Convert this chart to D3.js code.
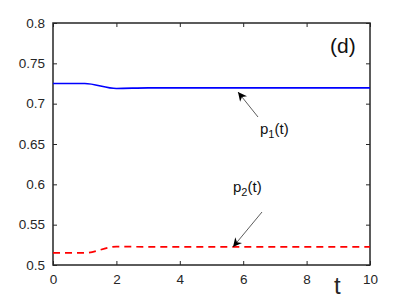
<!DOCTYPE html>
<html>
<head>
<meta charset="utf-8">
<script src="https://cdn.jsdelivr.net/npm/d3@7"></script>
<style>
  body { margin: 0; background: #fff; }
  svg { font-family: "Liberation Sans", Arial, sans-serif; }
</style>
</head>
<body>
<script>
// data
var t = [0, 1, 2, 3, 4, 5, 6, 7, 8, 9, 10];
var p1 = [0.725, 0.725, 0.7188, 0.7195, 0.7195, 0.7195, 0.7195, 0.7195, 0.7195, 0.7195, 0.7195];
var p2 = [0.515, 0.515, 0.5228, 0.5225, 0.5225, 0.5225, 0.5225, 0.5225, 0.5225, 0.5225, 0.5225];
var xTicks = [0, 2, 4, 6, 8, 10];
var yTicks = [0.5, 0.55, 0.6, 0.65, 0.7, 0.75, 0.8];

var W = 409, H = 298;
var mLeft = 53, mRight = 370, mTop = 23, mBottom = 265;

var svg = d3.select("body").append("svg")
  .attr("width", W)
  .attr("height", H);

var x = d3.scaleLinear().domain([0, 10]).range([mLeft, mRight]);
var y = d3.scaleLinear().domain([0.5, 0.8]).range([mBottom, mTop]);

var axisColor = "#262626";

// axes with inward ticks
var gx = svg.append("g").attr("transform", "translate(0," + mBottom + ")")
  .call(d3.axisBottom(x).tickValues(xTicks).tickSizeInner(-4).tickSizeOuter(0).tickPadding(9).tickFormat(d3.format("d")));
var gxTop = svg.append("g").attr("transform", "translate(0," + mTop + ")")
  .call(d3.axisTop(x).tickValues(xTicks).tickSizeInner(-4).tickSizeOuter(0).tickFormat(""));
var gy = svg.append("g").attr("transform", "translate(" + mLeft + ",0)")
  .call(d3.axisLeft(y).tickValues(yTicks).tickSizeInner(-4).tickSizeOuter(0).tickPadding(8).tickFormat(function (d) { return String(+d.toFixed(2)); }));
var gyRight = svg.append("g").attr("transform", "translate(" + mRight + ",0)")
  .call(d3.axisRight(y).tickValues(yTicks).tickSizeInner(-4).tickSizeOuter(0).tickFormat(""));

[gx, gxTop, gy, gyRight].forEach(function (g) {
  g.select(".domain").remove();
  g.selectAll(".tick line").attr("stroke", axisColor).attr("stroke-width", 1);
  g.selectAll(".tick text").attr("fill", axisColor).attr("font-size", "13.5px")
    .attr("font-family", "'Liberation Sans', Arial, sans-serif");
});

// box
svg.append("rect")
  .attr("x", mLeft).attr("y", mTop)
  .attr("width", mRight - mLeft).attr("height", mBottom - mTop)
  .attr("fill", "none").attr("stroke", axisColor).attr("stroke-width", 1.5);

var line = d3.line()
  .x(function (d) { return x(d[0]); })
  .y(function (d) { return y(d[1]); })
  .curve(d3.curveMonotoneX);

svg.append("path")
  .datum(d3.zip(t, p1))
  .attr("d", line)
  .attr("fill", "none")
  .attr("stroke", "#0000ff")
  .attr("stroke-width", 1.7);

svg.append("path")
  .datum(d3.zip(t, p2))
  .attr("d", line)
  .attr("fill", "none")
  .attr("stroke", "#ff0000")
  .attr("stroke-width", 1.7)
  .attr("stroke-dasharray", "7,5");

// arrows
svg.append("defs").append("marker")
  .attr("id", "head")
  .attr("viewBox", "0 0 10 10")
  .attr("refX", 10).attr("refY", 5)
  .attr("markerWidth", 9).attr("markerHeight", 9)
  .attr("markerUnits", "userSpaceOnUse")
  .attr("orient", "auto")
  .append("path")
  .attr("d", "M0,0 L10,5 L0,10 L3,5 Z")
  .attr("fill", "#000");

svg.append("line")
  .attr("x1", 258).attr("y1", 117).attr("x2", 238).attr("y2", 92)
  .attr("stroke", "#333").attr("stroke-width", 0.8)
  .attr("marker-end", "url(#head)");

svg.append("line")
  .attr("x1", 262).attr("y1", 212).attr("x2", 233).attr("y2", 247)
  .attr("stroke", "#333").attr("stroke-width", 0.8)
  .attr("marker-end", "url(#head)");

// labels
function plabel(px, py, sub) {
  var tx = svg.append("text").attr("x", px).attr("y", py)
    .attr("font-size", "15px").attr("fill", "#111");
  tx.append("tspan").text("p");
  tx.append("tspan").attr("dy", 4).attr("font-size", "11px").text(sub);
  tx.append("tspan").attr("dy", -4).text("(t)");
}
plabel(260, 134, "1");
plabel(233, 192, "2");

svg.append("text")
  .attr("x", 330).attr("y", 53)
  .attr("font-size", "21px").attr("fill", "#111")
  .text("(d)");

svg.append("text")
  .attr("x", 334).attr("y", 294)
  .attr("font-size", "24px").attr("fill", "#262626")
  .text("t");
</script>
</body>
</html>
